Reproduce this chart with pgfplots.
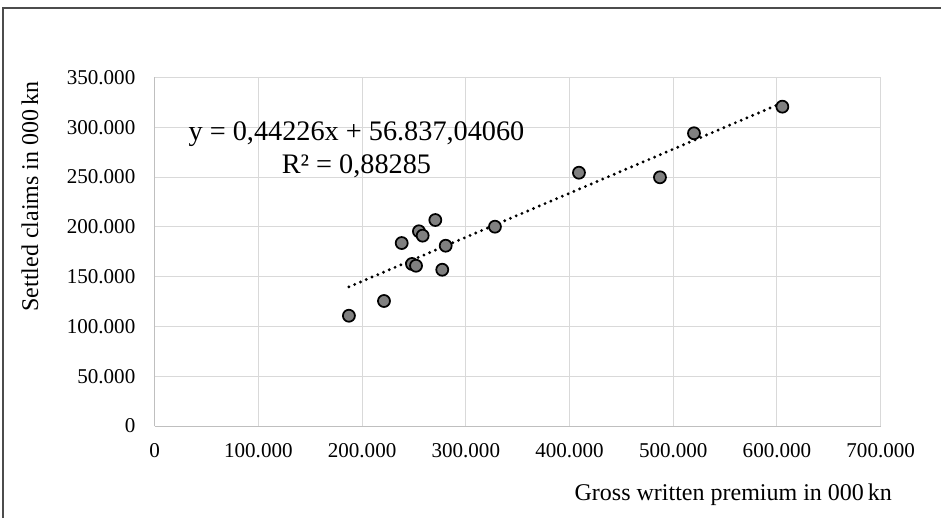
\documentclass[border=0pt]{standalone}
\usepackage{fontspec}
\setmainfont{Liberation Serif}
\usepackage{pgfplots}
\pgfplotsset{compat=1.18}

\definecolor{markgray}{RGB}{128,128,128}
\definecolor{gridgray}{RGB}{217,217,217}
\definecolor{axisgray}{RGB}{191,191,191}

\begin{document}
\begin{tikzpicture}
% frame: 941 x 518 px at 0.75pt per px
\path[use as bounding box] (0,0) rectangle (705.75pt,388.5pt);
\draw[line width=1.4pt, black!70] (2.3pt,0) -- (2.3pt,382.3pt) -- (705.75pt,382.3pt);

\begin{axis}[
  at={(116pt,69pt)}, anchor=south west,
  scale only axis,
  width=544.5pt, height=261.45pt,
  xmin=0, xmax=700000,
  ymin=0, ymax=350000,
  xtick={0,100000,200000,300000,400000,500000,600000,700000},
  ytick={0,50000,100000,150000,200000,250000,300000,350000},
  scaled ticks=false,
  /pgf/number format/.cd, fixed, 1000 sep={.}, assume math mode=true,
  /pgfplots/.cd,
  axis x line=bottom, axis y line=left,
  axis line style={-, draw=axisgray, line width=0.75pt},
  major tick length=0pt,
  grid=major,
  grid style={gridgray, line width=0.75pt},
  tick label style={font=\fontsize{15.8pt}{19pt}\selectfont, black},
  xticklabel style={yshift=-9.4pt},
  yticklabel style={xshift=-11pt},
  xlabel={Gross written premium in 000\,kn},
  ylabel={Settled claims in 000\,kn},
  xlabel style={at={(axis description cs:0.797,-0.198)}, anchor=center, font=\fontsize{18pt}{22pt}\selectfont},
  ylabel style={at={(axis description cs:-0.1718,0.658)}, anchor=center, font=\fontsize{18pt}{22pt}\selectfont},
  clip=false,
]
% observations
\addplot[only marks, mark=*, mark size=4.5pt,
  mark options={fill=markgray, draw=black, line width=1.3pt}] coordinates {
  (187300,110700) (221100,125500) (238200,183700) (248100,162700)
  (252000,160900) (254800,195500) (258400,191100) (270600,206800)
  (280600,181000) (277300,156900) (328100,200100) (409100,254300)
  (487200,249700) (520000,293900) (605200,320600)
};
% linear trend line (end points from y = 0,44226x + 56837)
\addplot[black, line width=2.4pt, line cap=round, dash pattern=on 0pt off 4.7pt]
  coordinates {(187300,139672) (605200,324493)};

\node[font=\fontsize{21.2pt}{25.3pt}\selectfont, align=center, inner sep=0pt]
  at (axis description cs:0.278,0.792)
  {y = 0,44226x + 56.837,04060\\R² = 0,88285};
\end{axis}
\end{tikzpicture}
\end{document}
